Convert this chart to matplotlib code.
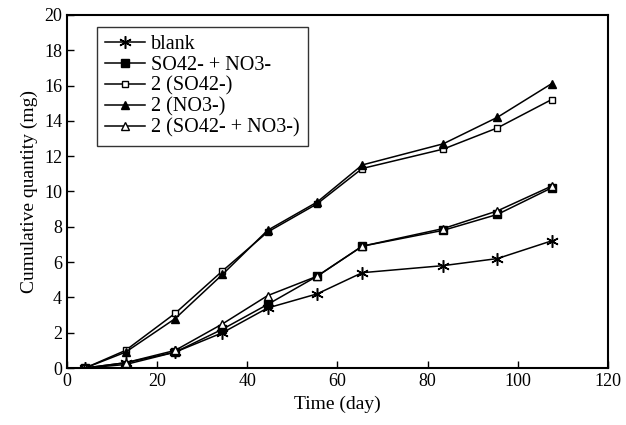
import matplotlib.pyplot as plt

plt.rcParams['font.family'] = ['Liberation Serif', 'DejaVu Serif']

days = [4, 13, 24, 34.5, 44.5, 55.5, 65.5, 83.5, 95.5, 107.5]

blank = [0, 0.3, 0.9, 2.0, 3.4, 4.2, 5.4, 5.8, 6.2, 7.2]
so4_no3 = [0, 0.2, 0.9, 2.2, 3.6, 5.2, 6.9, 7.8, 8.7, 10.2]
so4_x2 = [0, 1.0, 3.1, 5.5, 7.7, 9.3, 11.3, 12.4, 13.6, 15.2]
no3_x2 = [0, 0.9, 2.8, 5.3, 7.8, 9.4, 11.5, 12.7, 14.2, 16.1]
so4_no3_x2 = [0, 0.3, 1.0, 2.5, 4.1, 5.2, 6.9, 7.9, 8.9, 10.3]

fig = plt.figure(figsize=(6.26, 4.25), dpi=100)
ax = fig.add_axes([0.107, 0.134, 0.864, 0.831])

kw = dict(color='black', lw=1.1, markersize=5.5)
ax.plot(days, blank, marker=(6, 2, 0), markersize=9, mew=1.1, color='black', lw=1.1, label='blank')
ax.plot(days, so4_no3, marker='s', mfc='black', label='SO42- + NO3-', **kw)
ax.plot(days, so4_x2, marker='s', mfc='white', mew=1.0, markersize=5, color='black', lw=1.1, label='2 (SO42-)')
ax.plot(days, no3_x2, marker='^', mfc='black', label='2 (NO3-)', **kw)
ax.plot(days, so4_no3_x2, marker='^', mfc='white', mew=1.0, label='2 (SO42- + NO3-)', **kw)

ax.set_xlim(0, 120)
ax.set_ylim(0, 20)
ax.set_xticks(range(0, 121, 20))
ax.set_yticks(range(0, 21, 2))
ax.tick_params(direction='in', labelsize=13, length=5, width=1)
for s in ax.spines.values():
    s.set_linewidth(1.5)

ax.set_xlabel('Time (day)', fontsize=14)
ax.set_ylabel('Cumulative quantity (mg)', fontsize=14)

leg = ax.legend(loc='upper left', bbox_to_anchor=(0.055, 0.965), fontsize=14.5,
                frameon=True, fancybox=False, edgecolor='black', handlelength=2.0,
                borderpad=0.4, labelspacing=0.08, handletextpad=0.3, borderaxespad=0)
leg.get_frame().set_linewidth(1.0)

fig.savefig('out.png', dpi=100)
